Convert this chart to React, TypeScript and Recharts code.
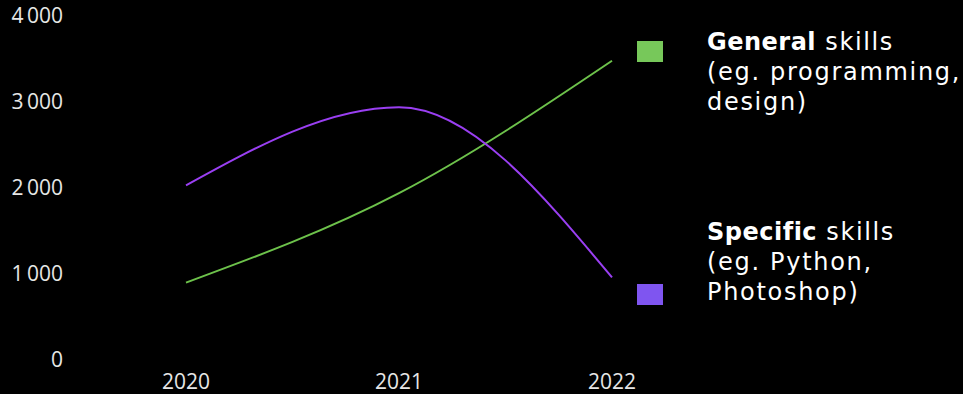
import React from 'react';
import { LineChart, Line, XAxis, YAxis, Legend } from 'recharts';

// Survey years and the two skill series
const years = ['2020', '2021', '2022'];
const generalSkills = [900, 1940, 3480];
const specificSkills = [2030, 2940, 960];
const yTicks = [0, 1000, 2000, 3000, 4000];

const GREEN_LINE = '#6dc24b';
const PURPLE_LINE = '#9a3ff2';
const GREEN_KEY = '#77c85a';
const PURPLE_KEY = '#7f55f0';

const LEGEND_FONT = '"DejaVu Sans", sans-serif';

const data = years.map((year, i) => ({
  year,
  general: generalSkills[i],
  specific: specificSkills[i],
}));

const legendItems = [
  { color: GREEN_KEY, bold: 'General', rest: ' skills', lines: ['(eg. programming,', 'design)'], keyY: 41, textY: 50 },
  { color: PURPLE_KEY, bold: 'Specific', rest: ' skills', lines: ['(eg. Python,', 'Photoshop)'], keyY: 284, textY: 240 },
];

const formatThousands = (v: number) => {
  if (v < 1000) return String(v);
  const s = String(v);
  return s.slice(0, s.length - 3) + '\u2009' + s.slice(s.length - 3);
};

const LegendBlock = () => (
  <svg width={963} height={394} style={{ position: 'absolute', left: 0, top: 0, pointerEvents: 'none' }}>
    {legendItems.map((item) => (
      <g key={item.bold}>
        <rect x={637} y={item.keyY} width={26} height={21} fill={item.color} />
        <text x={707} y={item.textY} fill="#ffffff" fontFamily={LEGEND_FONT} fontSize={24} letterSpacing={1.6}>
          <tspan fontWeight={700} letterSpacing={0.5}>{item.bold}</tspan>
          <tspan>{item.rest}</tspan>
        </text>
        {item.lines.map((line, j) => (
          <text
            key={line}
            x={707}
            y={item.textY + 30 * (j + 1)}
            fill="#ffffff"
            fontFamily={LEGEND_FONT}
            fontSize={24}
            letterSpacing={1.7}
          >
            {line}
          </text>
        ))}
      </g>
    ))}
  </svg>
);

export default function App() {
  return (
    <div style={{ position: 'fixed', left: 0, top: 0, width: 963, height: 394, background: '#000000' }}>
      <LineChart
        width={963}
        height={394}
        data={data}
        margin={{ top: 16, right: 351, bottom: 0, left: 0 }}
      >
        <XAxis
          dataKey="year"
          axisLine={false}
          tickLine={false}
          height={34}
          tickMargin={8}
          padding={{ left: 115, right: 0 }}
          tick={{ fill: '#e6e6e6', fontSize: 21, fontFamily: '"Open Sans", sans-serif' }}
        />
        <YAxis
          domain={[0, 4000]}
          ticks={yTicks}
          width={71}
          axisLine={false}
          tickLine={false}
          tickFormatter={formatThousands}
          tick={{ fill: '#e6e6e6', fontSize: 21, fontFamily: '"Open Sans", sans-serif' }}
        />
        <Line
          type="monotone"
          dataKey="general"
          stroke={GREEN_LINE}
          strokeWidth={2}
          dot={false}
          isAnimationActive={false}
        />
        <Line
          type="monotone"
          dataKey="specific"
          stroke={PURPLE_LINE}
          strokeWidth={2}
          dot={false}
          isAnimationActive={false}
        />
        <Legend
          layout="vertical"
          align="center"
          verticalAlign="middle"
          content={<LegendBlock />}
          wrapperStyle={{ left: 0, top: 0, width: 963, height: 394 }}
        />
      </LineChart>
    </div>
  );
}
